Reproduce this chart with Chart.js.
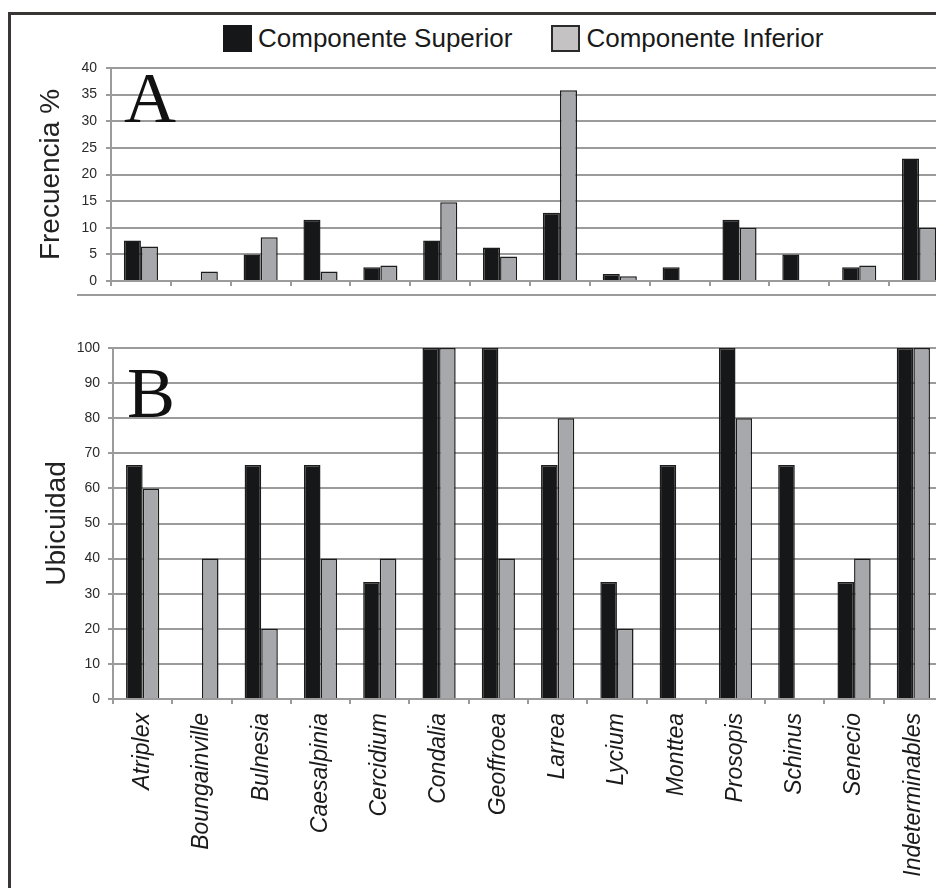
<!DOCTYPE html>
<html lang="es">
<head>
    <meta charset="UTF-8">
    <title>Frecuencia y Ubicuidad</title>
    <script src="https://cdn.jsdelivr.net/npm/chart.js"></script>
    <style>
        html, body { margin: 0; padding: 0; background: #fff; overflow: hidden; width: 936px; height: 888px; }
        body { position: relative; font-family: "Liberation Sans", Arial, sans-serif; }
        #frame { position: absolute; left: 8px; top: 12px; width: 940px; height: 900px;
                 border-top: 3px solid #3a3535; border-left: 3px solid #3a3535; }
        #sep { position: absolute; left: 77px; top: 294px; width: 880px; height: 2px; background: #9b9b9b; }
        canvas { position: absolute; left: 0; }
        #chartA { top: 0; }
        #chartB { top: 300px; }
        .letter { position: absolute; font-family: "Liberation Serif", "DejaVu Serif", serif;
                  font-size: 72px; line-height: 72px; color: #111; }
        #legend { position: absolute; top: 25px; left: 223px; display: flex; align-items: center;
                  font-size: 26px; color: #1a1a1a; height: 27px; }
        .sw { width: 29px; height: 27px; box-sizing: border-box; }
    </style>
</head>
<body>
    <div id="frame"></div>
    <div id="legend">
        <span class="sw" id="swSup"></span><span style="margin-left:6px">Componente Superior</span>
        <span class="sw" id="swInf" style="margin-left:39px"></span><span style="margin-left:6px">Componente Inferior</span>
    </div>
    <canvas id="chartA" width="1000" height="300"></canvas>
    <div id="sep"></div>
    <canvas id="chartB" width="1000" height="590"></canvas>
    <div class="letter" style="left:124px; top:62px;">A</div>
    <div class="letter" style="left:127px; top:357px;">B</div>
    <script>
// data
const species = ['Atriplex', 'Boungainville', 'Bulnesia', 'Caesalpinia', 'Cercidium', 'Condalia', 'Geoffroea',
                 'Larrea', 'Lycium', 'Monttea', 'Prosopis', 'Schinus', 'Senecio', 'Indeterminables'];
const freqSuperior = [7.6, 0, 5.0, 11.5, 2.6, 7.6, 6.3, 12.8, 1.3, 2.6, 11.5, 5.0, 2.6, 23.0];
const freqInferior = [6.5, 1.8, 8.2, 1.8, 2.9, 14.8, 4.6, 35.8, 0.9, 0, 10.0, 0, 2.9, 10.0];
const ubicSuperior = [66.7, 0, 66.7, 66.7, 33.3, 100, 100, 66.7, 33.3, 66.7, 100, 66.7, 33.3, 100];
const ubicInferior = [60, 40, 20, 40, 40, 100, 40, 80, 20, 0, 80, 0, 40, 100];
const seriesNames = ['Componente Superior', 'Componente Inferior'];

const blackFill = '#161718';
const greyFill = '#a7a8ab';
const edge = '#1c1c1c';
const gridGrey = '#9b9b9b';

// legend swatches
document.getElementById('swSup').style.background = blackFill;
const swInf = document.getElementById('swInf');
swInf.style.background = '#c4c2c2';
swInf.style.border = '2px solid #2a2a2a';

function makeDatasets(sup, inf, catPct) {
  return [
    { label: seriesNames[0], data: sup, backgroundColor: blackFill, borderColor: edge, borderWidth: 1.5,
      categoryPercentage: catPct, barPercentage: 1.0 },
    { label: seriesNames[1], data: inf, backgroundColor: greyFill, borderColor: edge, borderWidth: 1.5,
      categoryPercentage: catPct, barPercentage: 1.0 }
  ];
}

function makeOptions(o) {
  return {
    responsive: false,
    animation: false,
    layout: { padding: { top: o.top, right: o.right, left: 0, bottom: 0 } },
    plugins: { legend: { display: false }, tooltip: { enabled: false } },
    scales: {
      x: {
        grid: { offset: true, drawOnChartArea: false, drawTicks: true, tickLength: 5, color: gridGrey, lineWidth: 2 },
        border: { display: true, color: gridGrey, width: 2 },
        ticks: {
          display: o.showLabels, autoSkip: false, minRotation: 90, maxRotation: 90, padding: 9,
          color: '#1a1a1a', font: { family: '"Liberation Sans", Arial, sans-serif', size: 23, style: 'italic' }
        },
        afterFit(scale) { scale.height = o.xHeight; }
      },
      y: {
        min: 0, max: o.max,
        grid: { color: gridGrey, lineWidth: 2, tickLength: 5 },
        border: { display: true, color: gridGrey, width: 2 },
        ticks: {
          stepSize: o.step, padding: o.tickPad, color: '#2a2a2a',
          font: { family: '"Liberation Sans", Arial, sans-serif', size: 14 }
        },
        title: {
          display: true, text: o.title, color: '#222',
          font: { family: '"Liberation Sans", Arial, sans-serif', size: 28 },
          padding: { top: o.titlePad, bottom: 0 }
        },
        afterFit(scale) { scale.width = o.yWidth; }
      }
    }
  };
}

new Chart(document.getElementById('chartA'), {
  type: 'bar',
  data: { labels: species, datasets: makeDatasets(freqSuperior, freqInferior, 0.57) },
  options: makeOptions({ top: 68, right: 51, xHeight: 19, yWidth: 111, max: 40, step: 5,
                         tickPad: 9, title: 'Frecuencia %', titlePad: 34, showLabels: false })
});

new Chart(document.getElementById('chartB'), {
  type: 'bar',
  data: { labels: species, datasets: makeDatasets(ubicSuperior, ubicInferior, 0.56) },
  options: makeOptions({ top: 48, right: 57, xHeight: 191, yWidth: 113, max: 100, step: 10,
                         tickPad: 8, title: 'Ubicuidad', titlePad: 40, showLabels: true })
});
    </script>
</body>
</html>
